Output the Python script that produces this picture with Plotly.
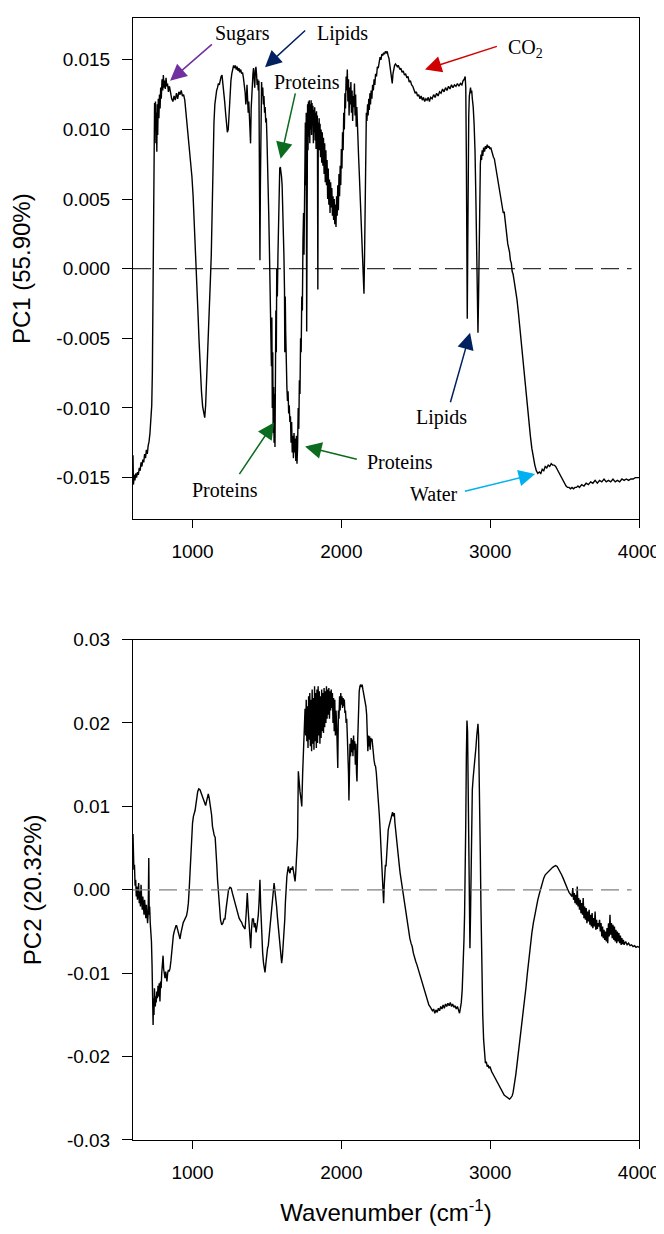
import plotly.graph_objects as go

# ---------------- DATA ----------------
pc1_wn = [600,603,608,613,618,624,630,636,642,648,654,660,666,672,678,684,690,696,702,708,714,720,726,730,733,736,739,742,745,748,751,754,757,760,763,766,770,774,778,782,786,790,795,800,804,808,812,817,822,827,832,838,845,852,860,868,876,884,892,900,908,916,924,932,940,948,956,964,972,980,988,996,1004,1012,1020,1028,1036,1044,1052,1060,1068,1076,1082,1088,1096,1104,1112,1120,1126,1132,1138,1144,1150,1156,1162,1168,1174,1180,1186,1192,1198,1204,1210,1216,1222,1228,1234,1240,1246,1252,1258,1264,1270,1276,1282,1288,1294,1300,1306,1312,1318,1324,1330,1336,1342,1348,1354,1358,1362,1366,1370,1374,1378,1382,1386,1390,1394,1398,1402,1406,1410,1414,1418,1422,1426,1430,1434,1438,1442,1446,1450,1453,1456,1460,1464,1468,1472,1476,1480,1484,1488,1492,1496,1500,1504,1508,1512,1516,1520,1524,1527,1530,1533,1536,1539,1542,1545,1548,1551,1554,1557,1560,1563,1566,1570,1574,1578,1582,1586,1590,1594,1598,1602,1606,1610,1614,1618,1620,1623,1626,1630,1634,1638,1642,1646,1650,1654,1658,1662,1666,1670,1674,1678,1682,1686,1690,1694,1698,1702,1706,1710,1714,1718,1722,1726,1730,1734,1738,1742,1746,1749,1752,1755,1758,1761,1764,1767,1770,1773,1776,1779,1782,1785,1788,1791,1794,1797,1800,1803,1806,1809,1812,1815,1818,1821,1824,1827,1830,1833,1836,1839,1842,1845,1848,1851,1854,1857,1860,1864,1868,1872,1876,1880,1884,1888,1892,1896,1900,1904,1908,1912,1916,1920,1924,1928,1932,1936,1940,1944,1948,1952,1956,1960,1964,1968,1972,1976,1980,1984,1988,1992,1996,2000,2004,2008,2012,2016,2020,2024,2028,2032,2036,2040,2044,2048,2052,2056,2060,2064,2068,2072,2076,2080,2084,2088,2092,2096,2100,2104,2108,2112,2116,2120,2124,2128,2132,2136,2140,2144,2148,2152,2156,2160,2164,2168,2172,2176,2180,2184,2188,2192,2196,2200,2205,2210,2215,2220,2225,2230,2236,2242,2248,2254,2260,2266,2272,2278,2284,2290,2296,2302,2308,2314,2320,2326,2332,2337,2342,2347,2352,2358,2364,2370,2376,2382,2388,2394,2400,2408,2416,2424,2432,2440,2448,2456,2464,2472,2480,2488,2496,2504,2512,2520,2528,2536,2544,2552,2560,2568,2576,2584,2592,2600,2610,2620,2630,2640,2650,2660,2670,2680,2690,2700,2710,2720,2730,2740,2750,2760,2770,2780,2790,2800,2810,2818,2826,2832,2836,2840,2843,2846,2849,2852,2856,2860,2864,2868,2872,2876,2880,2886,2892,2898,2904,2910,2914,2918,2922,2926,2930,2934,2938,2942,2946,2950,2956,2962,2968,2974,2980,2986,2992,2998,3004,3010,3016,3022,3028,3034,3040,3046,3052,3058,3064,3070,3076,3082,3088,3094,3100,3106,3112,3118,3124,3130,3136,3142,3148,3154,3160,3166,3172,3180,3190,3200,3210,3220,3230,3240,3250,3260,3270,3280,3290,3300,3310,3320,3330,3340,3350,3360,3370,3380,3390,3400,3410,3420,3430,3440,3450,3460,3470,3480,3490,3500,3510,3520,3530,3540,3550,3560,3570,3580,3590,3600,3615,3630,3645,3660,3675,3690,3705,3720,3735,3750,3765,3780,3795,3810,3825,3840,3855,3870,3885,3900,3915,3930,3945,3960,3975,3990,4000]
pc1_val = [-0.0134,-0.0155,-0.0148,-0.0152,-0.0147,-0.0150,-0.0146,-0.0148,-0.0143,-0.0145,-0.0139,-0.0142,-0.0137,-0.0139,-0.0133,-0.0136,-0.0130,-0.0133,-0.0127,-0.0124,-0.0118,-0.0110,-0.0098,-0.0075,-0.0040,0.0010,0.0060,0.0095,0.0119,0.0100,0.0120,0.0090,0.0112,0.0084,0.0118,0.0096,0.0122,0.0108,0.0125,0.0115,0.0130,0.0122,0.0136,0.0128,0.0139,0.0130,0.0135,0.0129,0.0137,0.0131,0.0133,0.0127,0.0131,0.0125,0.0122,0.0120,0.0124,0.0121,0.0126,0.0122,0.0127,0.0125,0.0128,0.0124,0.0125,0.0121,0.0112,0.0102,0.0094,0.0086,0.0076,0.0066,0.0052,0.0034,0.0014,-0.0008,-0.0030,-0.0052,-0.0072,-0.0088,-0.0099,-0.0106,-0.0107,-0.0098,-0.0078,-0.0054,-0.0030,-0.0008,0.0010,0.0045,0.0080,0.0105,0.0118,0.0125,0.0128,0.0130,0.0133,0.0132,0.0136,0.0138,0.0139,0.0134,0.0128,0.0120,0.0112,0.0104,0.0098,0.0100,0.0112,0.0126,0.0135,0.0140,0.0143,0.0146,0.0144,0.0146,0.0143,0.0145,0.0142,0.0144,0.0141,0.0143,0.0140,0.0141,0.0137,0.0132,0.0126,0.0118,0.0122,0.0132,0.0124,0.0112,0.0120,0.0106,0.0098,0.0090,0.0115,0.0126,0.0136,0.0140,0.0144,0.0138,0.0130,0.0142,0.0145,0.0140,0.0132,0.0136,0.0128,0.0135,0.0060,0.0006,0.0060,0.0128,0.0134,0.0124,0.0130,0.0118,0.0124,0.0112,0.0116,0.0105,0.0108,0.0094,0.0080,0.0064,0.0040,0.0018,-0.0010,-0.0040,-0.0030,-0.0070,-0.0035,-0.0100,-0.0060,-0.0118,-0.0085,-0.0125,-0.0090,-0.0128,-0.0070,-0.0030,-0.0060,0.0000,-0.0020,0.0010,0.0040,0.0062,0.0072,0.0073,0.0070,0.0066,0.0060,0.0048,0.0030,0.0010,-0.0015,-0.0060,-0.0020,-0.0045,-0.0075,-0.0085,-0.0095,-0.0088,-0.0104,-0.0098,-0.0110,-0.0106,-0.0125,-0.0110,-0.0132,-0.0120,-0.0136,-0.0118,-0.0132,-0.0122,-0.0138,-0.0120,-0.0140,-0.0128,-0.0100,-0.0115,-0.0080,-0.0090,-0.0050,-0.0060,-0.0020,-0.0030,0.0020,0.0040,0.0010,0.0080,0.0050,0.0105,0.0060,0.0112,-0.0045,0.0098,0.0118,0.0085,0.0120,0.0095,0.0121,0.0090,0.0118,0.0100,0.0121,0.0096,0.0119,0.0104,0.0117,0.0090,0.0114,0.0098,0.0116,0.0092,0.0112,0.0086,0.0113,0.0095,0.0110,-0.0015,0.0105,0.0090,0.0108,0.0085,0.0104,0.0080,0.0100,0.0076,0.0098,0.0074,0.0094,0.0068,0.0090,0.0062,0.0085,0.0060,0.0078,0.0050,0.0072,0.0046,0.0064,0.0040,0.0062,0.0044,0.0058,0.0038,0.0052,0.0035,0.0050,0.0032,0.0046,0.0030,0.0052,0.0038,0.0060,0.0042,0.0068,0.0052,0.0074,0.0060,0.0086,0.0072,0.0098,0.0085,0.0112,0.0100,0.0126,0.0115,0.0138,0.0128,0.0143,0.0120,0.0136,0.0110,0.0130,0.0118,0.0134,0.0112,0.0128,0.0106,0.0124,0.0116,0.0133,0.0110,0.0125,0.0102,0.0116,0.0096,0.0100,0.0080,0.0070,0.0058,0.0045,0.0030,0.0018,0.0008,-0.0002,-0.0012,-0.0018,0.0010,0.0060,0.0100,0.0112,0.0106,0.0118,0.0110,0.0122,0.0114,0.0126,0.0118,0.0128,0.0122,0.0132,0.0128,0.0136,0.0132,0.0140,0.0138,0.0145,0.0144,0.0150,0.0152,0.0150,0.0154,0.0153,0.0155,0.0154,0.0156,0.0155,0.0156,0.0153,0.0151,0.0146,0.0140,0.0136,0.0133,0.0140,0.0144,0.0146,0.0147,0.0146,0.0145,0.0146,0.0144,0.0143,0.0144,0.0141,0.0142,0.0139,0.0140,0.0137,0.0138,0.0134,0.0135,0.0132,0.0131,0.0128,0.0126,0.0127,0.0124,0.0125,0.0122,0.0124,0.0121,0.0123,0.0120,0.0122,0.0121,0.0123,0.0120,0.0123,0.0122,0.0125,0.0123,0.0126,0.0124,0.0127,0.0126,0.0129,0.0127,0.0130,0.0128,0.0131,0.0129,0.0132,0.0130,0.0132,0.0131,0.0133,0.0131,0.0133,0.0132,0.0135,0.0136,0.0138,0.0130,0.0080,0.0020,-0.0036,0.0010,0.0070,0.0110,0.0124,0.0128,0.0130,0.0126,0.0128,0.0122,0.0116,0.0104,0.0085,0.0050,0.0010,-0.0030,-0.0046,-0.0020,0.0020,0.0055,0.0075,0.0082,0.0078,0.0085,0.0081,0.0087,0.0084,0.0088,0.0086,0.0089,0.0087,0.0088,0.0086,0.0087,0.0084,0.0083,0.0080,0.0079,0.0075,0.0072,0.0068,0.0064,0.0060,0.0056,0.0051,0.0048,0.0044,0.0040,0.0041,0.0034,0.0028,0.0024,0.0018,0.0015,0.0012,0.0006,0.0004,-0.0002,-0.0004,-0.0008,-0.0012,-0.0016,-0.0022,-0.0032,-0.0043,-0.0055,-0.0068,-0.0080,-0.0090,-0.0101,-0.0111,-0.0120,-0.0129,-0.0136,-0.0141,-0.0145,-0.0147,-0.0146,-0.0147,-0.0144,-0.0145,-0.0142,-0.0143,-0.0141,-0.0142,-0.0140,-0.0141,-0.0141,-0.0142,-0.0144,-0.0146,-0.0148,-0.0151,-0.0153,-0.0155,-0.0156,-0.0157,-0.0157,-0.0158,-0.0157,-0.0158,-0.0157,-0.0157,-0.0156,-0.0157,-0.0155,-0.0156,-0.0154,-0.0155,-0.0153,-0.0154,-0.0152,-0.0154,-0.0152,-0.0153,-0.0151,-0.0153,-0.0152,-0.0153,-0.0151,-0.0153,-0.0152,-0.0153,-0.0151,-0.0152,-0.0151,-0.0152,-0.0151,-0.0151,-0.0150,-0.0150,-0.0150]

# PC2: ten points per line, wavenumber and value lines correspond one to one
pc2_wn = [
    600, 603, 606, 610, 614, 618, 622, 626, 630, 634,
    638, 642, 646, 650, 654, 658, 662, 666, 670, 674,
    678, 682, 686, 690, 694, 698, 702, 706, 709, 712,
    716, 720, 724, 728, 732, 735, 738, 741, 744, 747,
    750, 753, 756, 760, 764, 768, 772, 776, 781, 785,
    789, 793, 797, 802, 806, 810, 815, 820, 824, 828,
    833, 838, 843, 849, 855, 861, 866, 871, 877, 883,
    889, 893, 899, 905, 911, 916, 922, 928, 934, 938,
    944, 950, 956, 960, 966, 972, 978, 983, 988, 994,
    1000, 1006, 1012, 1017, 1024, 1030, 1035, 1042, 1050, 1058,
    1065, 1072, 1080, 1088, 1094, 1100, 1106, 1112, 1117, 1122,
    1128, 1134, 1140, 1146, 1152, 1158, 1163, 1168, 1173, 1180,
    1188, 1196, 1204, 1212, 1218, 1226, 1234, 1242, 1252, 1260,
    1268, 1274, 1282, 1290, 1297, 1305, 1313, 1322, 1330, 1338,
    1346, 1353, 1360, 1368, 1374, 1380, 1386, 1391, 1396, 1402,
    1409, 1415, 1421, 1427, 1433, 1438, 1442, 1447, 1453, 1458,
    1465, 1471, 1477, 1482, 1487, 1493, 1499, 1504, 1509, 1515,
    1521, 1527, 1532, 1538, 1543, 1548, 1553, 1559, 1565, 1571,
    1577, 1583, 1589, 1594, 1599, 1604, 1609, 1615, 1620, 1624,
    1628, 1634, 1640, 1644, 1650, 1655, 1660, 1666, 1673, 1678,
    1684, 1689, 1694, 1700, 1706, 1711, 1716, 1722, 1728, 1734,
    1740, 1745, 1750, 1756, 1760, 1764, 1768, 1772, 1776, 1780,
    1784, 1788, 1792, 1796, 1800, 1804, 1808, 1812, 1816, 1820,
    1824, 1828, 1832, 1836, 1840, 1844, 1848, 1852, 1856, 1860,
    1864, 1868, 1872, 1876, 1880, 1884, 1888, 1892, 1896, 1900,
    1904, 1908, 1912, 1916, 1920, 1924, 1928, 1932, 1936, 1940,
    1944, 1948, 1952, 1956, 1960, 1964, 1968, 1972, 1976, 1980,
    1984, 1988, 1992, 1996, 2000, 2004, 2008, 2012, 2016, 2020,
    2024, 2028, 2032, 2036, 2040, 2044, 2048, 2051, 2054, 2058,
    2062, 2066, 2070, 2074, 2078, 2082, 2086, 2090, 2094, 2098,
    2102, 2105, 2110, 2115, 2120, 2125, 2130, 2135, 2140, 2145,
    2150, 2155, 2160, 2165, 2170, 2174, 2178, 2182, 2186, 2190,
    2194, 2198, 2202, 2206, 2210, 2215, 2220, 2225, 2230, 2235,
    2240, 2245, 2250, 2255, 2260, 2265, 2270, 2275, 2280, 2284,
    2288, 2292, 2296, 2300, 2305, 2310, 2315, 2320, 2326, 2332,
    2338, 2344, 2350, 2356, 2360, 2365, 2370, 2375, 2380, 2385,
    2390, 2395, 2400, 2405, 2410, 2415, 2420, 2428, 2436, 2444,
    2452, 2460, 2468, 2476, 2484, 2492, 2500, 2508, 2516, 2524,
    2532, 2540, 2548, 2556, 2564, 2572, 2580, 2588, 2596, 2604,
    2612, 2620, 2628, 2636, 2644, 2652, 2660, 2668, 2676, 2684,
    2692, 2700, 2708, 2716, 2724, 2732, 2740, 2748, 2756, 2764,
    2772, 2780, 2788, 2794, 2800, 2806, 2812, 2818, 2824, 2828,
    2832, 2836, 2840, 2844, 2848, 2852, 2856, 2860, 2864, 2868,
    2872, 2876, 2880, 2886, 2892, 2898, 2904, 2910, 2914, 2918,
    2922, 2926, 2930, 2934, 2938, 2942, 2946, 2950, 2956, 2962,
    2968, 2974, 2980, 2986, 2992, 2998, 3004, 3010, 3016, 3022,
    3028, 3034, 3040, 3046, 3052, 3058, 3064, 3070, 3076, 3082,
    3088, 3094, 3100, 3106, 3112, 3118, 3124, 3130, 3136, 3142,
    3148, 3154, 3160, 3166, 3172, 3178, 3184, 3190, 3196, 3202,
    3210, 3220, 3230, 3240, 3250, 3260, 3270, 3280, 3290, 3300,
    3310, 3320, 3330, 3340, 3350, 3360, 3370, 3380, 3390, 3400,
    3410, 3420, 3430, 3440, 3450, 3460, 3470, 3480, 3490, 3500,
    3510, 3520, 3530, 3540, 3550, 3555, 3560, 3565, 3570, 3575,
    3580, 3585, 3590, 3595, 3600, 3605, 3610, 3615, 3620, 3625,
    3630, 3635, 3640, 3645, 3650, 3655, 3660, 3665, 3670, 3675,
    3680, 3685, 3690, 3695, 3700, 3705, 3710, 3715, 3720, 3725,
    3730, 3735, 3740, 3745, 3750, 3755, 3760, 3765, 3770, 3775,
    3780, 3785, 3790, 3795, 3800, 3805, 3810, 3815, 3820, 3825,
    3830, 3835, 3840, 3845, 3850, 3855, 3860, 3865, 3870, 3875,
    3880, 3885, 3890, 3895, 3900, 3910, 3920, 3930, 3940, 3950,
    3960, 3970, 3980, 3990, 4000,
]
pc2_val = [
    0.0067, 0.0040, 0.0024, 0.0030, 0.0005, 0.0012, -0.0008, 0.0004, -0.0012, -0.0004,
    0.0008, -0.0016, -0.0002, -0.0020, 0.0006, -0.0010, -0.0024, -0.0008, -0.0016, -0.0030,
    -0.0012, -0.0022, -0.0034, -0.0018, -0.0030, -0.0040, -0.0028, 0.0038, -0.0030, -0.0020,
    -0.0040, -0.0050, -0.0062, -0.0090, -0.0125, -0.0162, -0.0130, -0.0150, -0.0118, -0.0140,
    -0.0140, -0.0128, -0.0135, -0.0122, -0.0130, -0.0115, -0.0128, -0.0112, -0.0134, -0.0110,
    -0.0118, -0.0100, -0.0090, -0.0079, -0.0095, -0.0100, -0.0106, -0.0098, -0.0108, -0.0110,
    -0.0100, -0.0096, -0.0098, -0.0094, -0.0085, -0.0072, -0.0062, -0.0055, -0.0050, -0.0046,
    -0.0043, -0.0043, -0.0048, -0.0054, -0.0058, -0.0059, -0.0052, -0.0045, -0.0041, -0.0039,
    -0.0037, -0.0035, -0.0033, -0.0031, -0.0025, -0.0016, 0.0002, 0.0024, 0.0045, 0.0063,
    0.0080, 0.0088, 0.0092, 0.0095, 0.0104, 0.0112, 0.0118, 0.0121, 0.0120, 0.0116,
    0.0112, 0.0110, 0.0105, 0.0101, 0.0106, 0.0112, 0.0115, 0.0110, 0.0104, 0.0102,
    0.0090, 0.0076, 0.0067, 0.0065, 0.0063, 0.0050, 0.0030, 0.0012, 0.0000, -0.0020,
    -0.0036, -0.0042, -0.0040, -0.0035, -0.0035, -0.0022, -0.0010, 0.0000, 0.0003, 0.0002,
    -0.0004, -0.0008, -0.0014, -0.0019, -0.0023, -0.0030, -0.0034, -0.0037, -0.0039, -0.0043,
    -0.0046, -0.0047, -0.0030, -0.0004, -0.0025, -0.0045, -0.0060, -0.0070, -0.0048, -0.0035,
    -0.0035, -0.0045, -0.0040, -0.0051, -0.0044, -0.0039, -0.0030, -0.0015, 0.0012, -0.0020,
    -0.0055, -0.0075, -0.0088, -0.0095, -0.0099, -0.0088, -0.0076, -0.0070, -0.0067, -0.0055,
    -0.0045, -0.0036, -0.0031, -0.0015, -0.0002, 0.0008, 0.0000, -0.0008, -0.0020, -0.0034,
    -0.0047, -0.0060, -0.0074, -0.0083, -0.0088, -0.0080, -0.0068, -0.0055, -0.0035, -0.0015,
    0.0000, 0.0016, 0.0024, 0.0028, 0.0022, 0.0020, 0.0026, 0.0024, 0.0028, 0.0022,
    0.0016, 0.0010, 0.0022, 0.0040, 0.0063, 0.0142, 0.0128, 0.0118, 0.0110, 0.0100,
    0.0140, 0.0160, 0.0190, 0.0217, 0.0185, 0.0228, 0.0178, 0.0220, 0.0170, 0.0232,
    0.0180, 0.0236, 0.0172, 0.0228, 0.0166, 0.0240, 0.0175, 0.0230, 0.0168, 0.0244,
    0.0178, 0.0236, 0.0170, 0.0240, 0.0176, 0.0244, 0.0185, 0.0238, 0.0175, 0.0232,
    0.0182, 0.0240, 0.0190, 0.0236, 0.0188, 0.0242, 0.0195, 0.0238, 0.0200, 0.0244,
    0.0205, 0.0240, 0.0210, 0.0242, 0.0205, 0.0238, 0.0215, 0.0240, 0.0218, 0.0236,
    0.0200, 0.0230, 0.0190, 0.0228, 0.0185, 0.0215, 0.0200, 0.0180, 0.0146, 0.0215,
    0.0205, 0.0232, 0.0215, 0.0236, 0.0222, 0.0232, 0.0218, 0.0230, 0.0220, 0.0228,
    0.0212, 0.0215, 0.0200, 0.0205, 0.0185, 0.0170, 0.0140, 0.0107, 0.0150, 0.0175,
    0.0160, 0.0182, 0.0165, 0.0180, 0.0160, 0.0185, 0.0168, 0.0178, 0.0150, 0.0175,
    0.0140, 0.0130, 0.0180, 0.0215, 0.0238, 0.0244, 0.0246, 0.0243, 0.0246, 0.0240,
    0.0236, 0.0230, 0.0225, 0.0220, 0.0210, 0.0190, 0.0166, 0.0185, 0.0172, 0.0184,
    0.0168, 0.0182, 0.0178, 0.0181, 0.0170, 0.0160, 0.0155, 0.0150, 0.0148, 0.0140,
    0.0130, 0.0120, 0.0105, 0.0090, 0.0074, 0.0058, 0.0042, 0.0025, 0.0005, -0.0016,
    0.0005, 0.0022, 0.0030, 0.0028, 0.0045, 0.0060, 0.0072, 0.0076, 0.0080, 0.0086,
    0.0090, 0.0093, 0.0088, 0.0092, 0.0080, 0.0070, 0.0064, 0.0055, 0.0045, 0.0035,
    0.0028, 0.0020, 0.0014, 0.0008, 0.0002, -0.0004, -0.0012, -0.0022, -0.0032, -0.0040,
    -0.0050, -0.0058, -0.0064, -0.0068, -0.0076, -0.0082, -0.0086, -0.0090, -0.0095, -0.0100,
    -0.0104, -0.0110, -0.0115, -0.0120, -0.0125, -0.0130, -0.0134, -0.0138, -0.0140, -0.0142,
    -0.0145, -0.0143, -0.0148, -0.0144, -0.0147, -0.0142, -0.0145, -0.0140, -0.0143, -0.0138,
    -0.0142, -0.0137, -0.0140, -0.0136, -0.0139, -0.0135, -0.0140, -0.0137, -0.0141, -0.0139,
    -0.0143, -0.0140, -0.0145, -0.0148, -0.0142, -0.0135, -0.0120, -0.0095, -0.0060, -0.0030,
    0.0010, 0.0080, 0.0160, 0.0203, 0.0190, 0.0110, 0.0020, -0.0040, -0.0070, -0.0030,
    0.0040, 0.0100, 0.0120, 0.0135, 0.0145, 0.0155, 0.0170, 0.0185, 0.0195, 0.0199,
    0.0185, 0.0150, 0.0100, 0.0040, -0.0020, -0.0080, -0.0118, -0.0150, -0.0180, -0.0200,
    -0.0208, -0.0206, -0.0212, -0.0210, -0.0214, -0.0212, -0.0216, -0.0218, -0.0220, -0.0222,
    -0.0224, -0.0227, -0.0229, -0.0231, -0.0233, -0.0235, -0.0237, -0.0239, -0.0241, -0.0243,
    -0.0244, -0.0246, -0.0247, -0.0248, -0.0249, -0.0250, -0.0250, -0.0251, -0.0250, -0.0249,
    -0.0247, -0.0243, -0.0237, -0.0230, -0.0222, -0.0213, -0.0204, -0.0196, -0.0188, -0.0180,
    -0.0168, -0.0152, -0.0136, -0.0118, -0.0100, -0.0082, -0.0066, -0.0052, -0.0040, -0.0030,
    -0.0020, -0.0012, -0.0005, 0.0002, 0.0008, 0.0014, 0.0018, 0.0020, 0.0022, 0.0024,
    0.0025, 0.0027, 0.0028, 0.0029, 0.0028, 0.0025, 0.0022, 0.0018, 0.0014, 0.0009,
    0.0005, 0.0001, -0.0003, -0.0006, -0.0008, 0.0002, -0.0012, -0.0004, -0.0016, -0.0006,
    -0.0018, 0.0004, -0.0020, -0.0010, -0.0024, -0.0012, -0.0028, -0.0016, -0.0030, -0.0010,
    -0.0034, -0.0020, -0.0036, -0.0022, -0.0040, -0.0026, -0.0038, -0.0024, -0.0042, -0.0030,
    -0.0044, -0.0028, -0.0046, -0.0034, -0.0044, -0.0026, -0.0048, -0.0036, -0.0047, -0.0040,
    -0.0044, -0.0036, -0.0050, -0.0040, -0.0056, -0.0044, -0.0058, -0.0048, -0.0060, -0.0050,
    -0.0062, -0.0046, -0.0064, -0.0040, -0.0056, -0.0030, -0.0054, -0.0040, -0.0058, -0.0042,
    -0.0060, -0.0044, -0.0062, -0.0048, -0.0064, -0.0050, -0.0062, -0.0052, -0.0064, -0.0055,
    -0.0066, -0.0058, -0.0065, -0.0060, -0.0066, -0.0062, -0.0066, -0.0064, -0.0067, -0.0066,
    -0.0068, -0.0067, -0.0069, -0.0068, -0.0069,
]

x_ticks = [1000, 2000, 3000, 4000]
pc1_ticks = [-0.015, -0.010, -0.005, 0.000, 0.005, 0.010, 0.015]
pc1_ticktext = ["-0.015", "-0.010", "-0.005", "0.000", "0.005", "0.010", "0.015"]
pc2_ticks = [-0.03, -0.02, -0.01, 0.00, 0.01, 0.02, 0.03]
pc2_ticktext = ["-0.03", "-0.02", "-0.01", "0.00", "0.01", "0.02", "0.03"]

# ---------------- FIGURE ----------------
SANS = "Liberation Sans, Arial, sans-serif"
SERIF = "Liberation Serif, Times New Roman, serif"

fig = go.Figure()
fig.add_trace(go.Scatter(x=pc1_wn, y=pc1_val, mode="lines",
                         line=dict(color="black", width=1.4), xaxis="x", yaxis="y",
                         showlegend=False))
fig.add_trace(go.Scatter(x=pc2_wn, y=pc2_val, mode="lines",
                         line=dict(color="black", width=1.4), xaxis="x2", yaxis="y2",
                         showlegend=False))

axis_common = dict(showline=True, linecolor="black", linewidth=1, mirror=True,
                   ticks="outside", tickcolor="black", showgrid=False, zeroline=False,
                   tickfont=dict(family=SANS, size=19, color="black"))

fig.update_layout(
    width=656, height=1218,
    margin=dict(l=125, r=25, t=0, b=79),
    plot_bgcolor="white", paper_bgcolor="white",
    xaxis=dict(domain=[0, 1], anchor="y", range=[600, 4000], tickvals=x_ticks,
               ticklen=8, ticklabelstandoff=7, **axis_common),
    yaxis=dict(domain=[0.5531, 1], anchor="x", range=[-0.018, 0.018],
               tickvals=pc1_ticks, ticktext=pc1_ticktext, ticklen=10,
               ticklabelstandoff=8,
               title=dict(text="PC1 (55.90%)", font=dict(family=SANS, size=24, color="black"),
                          standoff=18),
               **axis_common),
    xaxis2=dict(domain=[0, 1], anchor="y2", range=[600, 4000], tickvals=x_ticks,
                ticklen=8, ticklabelstandoff=7,
                title=dict(text="Wavenumber (cm<sup>-1</sup>)",
                           font=dict(family=SANS, size=24, color="black"), standoff=26),
                **axis_common),
    yaxis2=dict(domain=[0, 0.4460], anchor="x2", range=[-0.03, 0.03],
                tickvals=pc2_ticks, ticktext=pc2_ticktext, ticklen=10,
                ticklabelstandoff=8,
                title=dict(text="PC2 (20.32%)", font=dict(family=SANS, size=24, color="black"),
                           standoff=18),
                **axis_common),
)

# dashed zero lines
fig.add_shape(type="line", xref="x", yref="y", x0=600, x1=3950, y0=0, y1=0,
              line=dict(color="black", width=1, dash="18px,8px"))
fig.add_shape(type="line", xref="x2", yref="y2", x0=600, x1=3950, y0=0, y1=0,
              line=dict(color="#7f7f7f", width=1.2, dash="18px,8px"))

# text labels
labels = [
    ("Sugars", 1336, 0.0169),
    ("Lipids", 2005, 0.0169),
    ("Proteins", 1766, 0.0134),
    ("CO<sub>2</sub>", 3234, 0.0158),
    ("Lipids", 2670, -0.0107),
    ("Proteins", 2394, -0.0139),
    ("Proteins", 1218, -0.0159),
    ("Water", 2620, -0.0162),
]
for txt, lx, ly in labels:
    fig.add_annotation(x=lx, y=ly, xref="x", yref="y", text=txt, showarrow=False,
                       font=dict(family=SERIF, size=20, color="black"),
                       xanchor="center", yanchor="middle")

# arrows (tail -> tip)
arrows = [
    ("#7030A0", 1140, 0.0162, 849, 0.0135),
    ("#002060", 1767, 0.0172, 1487, 0.01446),
    ("#0B6B1E", 1693, 0.0127, 1592, 0.0079),
    ("#D00000", 3055, 0.0160, 2562, 0.0143),
    ("#002060", 2730, -0.0097, 2865, -0.0046),
    ("#0B6B1E", 2114, -0.0137, 1756, -0.01276),
    ("#0B6B1E", 1308, -0.01485, 1548, -0.01104),
    ("#00B0F0", 2820, -0.0160, 3302, -0.01474),
]
for col, tx, ty, hx, hy in arrows:
    fig.add_annotation(x=hx, y=hy, ax=tx, ay=ty, xref="x", yref="y", axref="x", ayref="y",
                       text="", showarrow=True, arrowhead=2, arrowsize=2.2, arrowwidth=1.5,
                       arrowcolor=col, standoff=0, startstandoff=0)

fig.write_html("out.html")
